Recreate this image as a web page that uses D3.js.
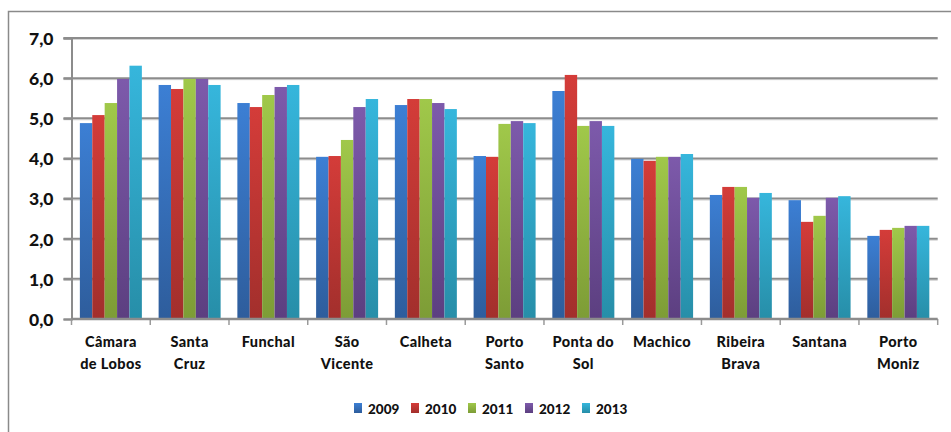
<!DOCTYPE html>
<html>
<head>
<meta charset="utf-8">
<script src="https://cdn.jsdelivr.net/npm/d3@7"></script>
<style>
	body { margin: 0; background: #fff; }
	text { font-family: Lato, "Open Sans", sans-serif; font-weight: 900; fill: #111; }
</style>
</head>
<body>
<div id="chart"></div>
<script>

const municipios = ['Câmara de Lobos', 'Santa Cruz', 'Funchal', 'São Vicente', 'Calheta', 'Porto Santo', 'Ponta do Sol', 'Machico', 'Ribeira Brava', 'Santana', 'Porto Moniz'];
const anos = ['2009', '2010', '2011', '2012', '2013'];
const v2009 = [4.88, 5.83, 5.38, 4.04, 5.33, 4.06, 5.68, 3.99, 3.09, 2.96, 2.07];
const v2010 = [5.08, 5.73, 5.28, 4.06, 5.48, 4.04, 6.08, 3.94, 3.29, 2.42, 2.22];
const v2011 = [5.38, 5.98, 5.58, 4.46, 5.48, 4.86, 4.81, 4.04, 3.29, 2.57, 2.27];
const v2012 = [5.98, 5.98, 5.78, 5.28, 5.38, 4.93, 4.93, 4.04, 3.02, 3.02, 2.32];
const v2013 = [6.31, 5.83, 5.83, 5.48, 5.23, 4.88, 4.81, 4.11, 3.14, 3.06, 2.32];
const yTicks = [0, 1, 2, 3, 4, 5, 6, 7];

class BarChart {

	constructor(options) {
		this.element = options.element;
		this.draw();
	}

	draw() {
		this.width = 951;
		this.height = 432;
		this.left = 71.5;
		this.right = 937.7;
		this.top = 38;
		this.bottom = 319;

		this.series = [v2009, v2010, v2011, v2012, v2013];
		this.colors = [
			['#3c7fd4', '#2e5d9c'],
			['#d43c39', '#a22f2c'],
			['#a0c84a', '#7d9c36'],
			['#7d5aab', '#5c3f80'],
			['#36b6dc', '#278ea8']
		];

		this.createSVG();
		this.createScales();
		this.createAxes();
		this.createBars();
		this.createLegend();
	}

	createSVG() {
		this.svg = d3.select(this.element)
			.append('svg')
				.attr('width', this.width)
				.attr('height', this.height);

		// chart frame
		this.svg.append('rect')
			.attr('x', 8.5).attr('y', 11.5)
			.attr('width', 980).attr('height', 500)
			.attr('fill', 'none')
			.attr('stroke', '#8a8a8a')
			.attr('stroke-width', 1.5);

		const defs = this.svg.append('defs');
		this.colors.forEach((c, i) => {
			const g = defs.append('linearGradient')
				.attr('id', 'grad' + i)
				.attr('x1', 0).attr('y1', 0).attr('x2', 0).attr('y2', 1);
			g.append('stop').attr('offset', '0%').attr('stop-color', c[0]);
			g.append('stop').attr('offset', '100%').attr('stop-color', c[1]);
		});
	}

	createScales() {
		this.xScale = d3.scaleBand()
			.domain(municipios)
			.range([this.left, this.right])
			.padding(0);

		const pad = (this.xScale.bandwidth() - 62) / 2;
		this.xInner = d3.scaleBand()
			.domain(anos)
			.range([pad, this.xScale.bandwidth() - pad])
			.padding(0);

		this.yScale = d3.scaleLinear()
			.domain([0, 7])
			.range([this.bottom, this.top]);
	}

	createAxes() {
		const locale = d3.formatLocale({ decimal: ',', thousands: '.', grouping: [3], currency: ['', '€'] });
		const fmt = locale.format('.1f');

		// gridlines
		const grid = this.svg.append('g').attr('class', 'grid');
		grid.selectAll('line.shadow')
			.data(yTicks.filter(d => d > 0))
			.join('line')
				.attr('class', 'shadow')
				.attr('x1', this.left - 8).attr('x2', this.right)
				.attr('y1', d => this.yScale(d) + 1.5).attr('y2', d => this.yScale(d) + 1.5)
				.attr('stroke', '#d4d4d4').attr('stroke-width', 1);
		grid.selectAll('line.main')
			.data(yTicks.filter(d => d > 0))
			.join('line')
				.attr('class', 'main')
				.attr('x1', this.left - 8).attr('x2', this.right)
				.attr('y1', d => this.yScale(d)).attr('y2', d => this.yScale(d))
				.attr('stroke', '#8c8c8c').attr('stroke-width', 2);

		this.yAxis = d3.axisLeft(this.yScale)
			.tickValues(yTicks)
			.tickFormat(fmt)
			.tickSize(8)
			.tickPadding(10);

		const ya = this.svg.append('g')
			.attr('class', 'yAxis')
			.attr('transform', `translate(${this.left}, 0)`)
			.call(this.yAxis);
		ya.select('.domain').attr('stroke', '#8c8c8c').attr('stroke-width', 2);
		ya.selectAll('.tick line').attr('stroke', '#8c8c8c').attr('stroke-width', 2);
		ya.selectAll('.tick text')
			.attr('font-size', 17.5)
			.attr('dy', '0.36em')
			.attr('fill', '#111');

		this.xAxis = d3.axisBottom(this.xScale)
			.tickSize(0)
			.tickFormat('');

		const xa = this.svg.append('g')
			.attr('class', 'xAxis')
			.attr('transform', `translate(0, ${this.bottom})`)
			.call(this.xAxis);
		xa.select('.domain').remove();

		const bounds = this.xScale.domain().map(d => this.xScale(d)).concat([this.right]);
		xa.selectAll('line.tk')
			.data(bounds)
			.join('line')
				.attr('class', 'tk')
				.attr('x1', d => d).attr('x2', d => d)
				.attr('y1', 0).attr('y2', 6)
				.attr('stroke', '#9a9a9a').attr('stroke-width', 1.5);

		const labels = {
			'Câmara de Lobos': ['Câmara', 'de Lobos'],
			'Santa Cruz': ['Santa', 'Cruz'],
			'São Vicente': ['São', 'Vicente'],
			'Porto Santo': ['Porto', 'Santo'],
			'Ponta do Sol': ['Ponta do', 'Sol'],
			'Ribeira Brava': ['Ribeira', 'Brava'],
			'Porto Moniz': ['Porto', 'Moniz']
		};

		const lab = xa.selectAll('text.cat')
			.data(municipios)
			.join('text')
				.attr('class', 'cat')
				.attr('text-anchor', 'middle')
				.attr('font-size', 14.5)
				.attr('letter-spacing', 0.4)
				.attr('x', d => this.xScale(d) + this.xScale.bandwidth() / 2)
				.attr('y', 28);
		lab.selectAll('tspan')
			.data(d => labels[d] || [d])
			.join('tspan')
				.attr('x', function () { return this.parentNode.getAttribute('x'); })
				.attr('dy', (d, i) => i === 0 ? 0 : 22)
				.text(d => d);
	}

	createBars() {
		this.bars = this.svg.append('g');

		this.series.forEach((vals, i) => {
			this.bars.append('g')
				.attr('fill', `url(#grad${i})`)
				.selectAll('rect')
				.data(vals)
				.join('rect')
					.attr('x', (d, j) => this.xScale(municipios[j]) + this.xInner(anos[i]))
					.attr('width', this.xInner.bandwidth())
					.attr('y', d => this.yScale(d))
					.attr('height', d => this.bottom - this.yScale(d));
		});

		// baseline on top of bars
		this.svg.append('line')
			.attr('x1', this.left).attr('x2', this.right)
			.attr('y1', this.bottom).attr('y2', this.bottom)
			.attr('stroke', '#8c8c8c').attr('stroke-width', 2.5);
	}

	createLegend() {
		const pos = [354, 411, 468, 525, 582];
		const lg = this.svg.append('g').attr('class', 'legend');
		const items = lg.selectAll('g')
			.data(anos)
			.join('g')
				.attr('transform', (d, i) => `translate(${pos[i]}, 403)`);
		items.append('rect')
			.attr('width', 8).attr('height', 10)
			.attr('fill', (d, i) => `url(#grad${i})`);
		items.append('text')
			.attr('x', 14).attr('y', 11)
			.attr('font-size', 13.5)
			.text(d => d);
	}

}

new BarChart({ element: '#chart' });

</script>
</body>
</html>
